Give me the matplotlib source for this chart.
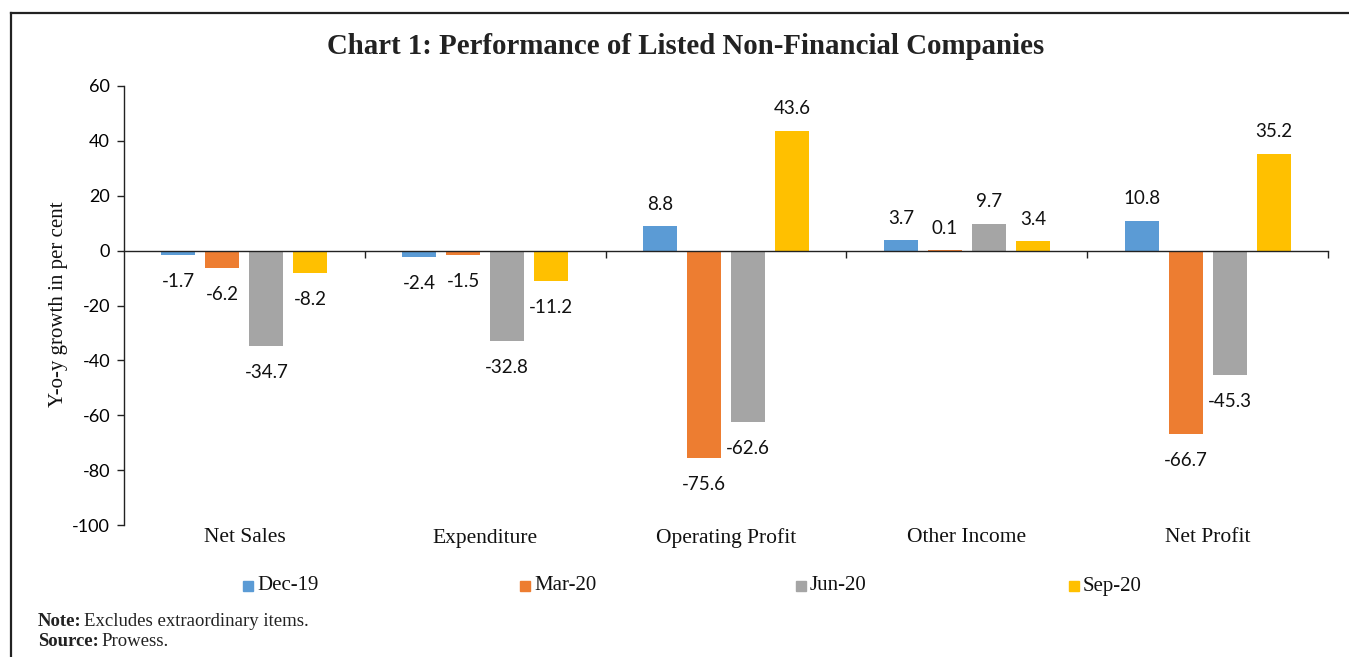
import matplotlib
matplotlib.use("Agg")
import matplotlib.pyplot as plt
from matplotlib.patches import Rectangle
from matplotlib.lines import Line2D
import matplotlib.transforms as mtransforms
import numpy as np

categories = ["Net Sales", "Expenditure", "Operating Profit", "Other Income", "Net Profit"]
series_names = ["Dec-19", "Mar-20", "Jun-20", "Sep-20"]
dec19 = [-1.7, -2.4, 8.8, 3.7, 10.8]
mar20 = [-6.2, -1.5, -75.6, 0.1, -66.7]
jun20 = [-34.7, -32.8, -62.6, 9.7, -45.3]
sep20 = [-8.2, -11.2, 43.6, 3.4, 35.2]
colors = ["#5B9BD5", "#ED7D31", "#A5A5A5", "#FFC000"]
yticks = [60, 40, 20, 0, -20, -40, -60, -80, -100]

SERIF = "Liberation Serif"
SANS = "Lato"

W, H = 1349, 657
fig = plt.figure(figsize=(W / 100, H / 100), dpi=100)

# frame lines
fig.add_artist(Line2D([11 / W, 1.0], [1 - 12.5 / H, 1 - 12.5 / H], color="#222222", lw=1.6))
fig.add_artist(Line2D([11 / W, 11 / W], [0, 1 - 12.5 / H], color="#222222", lw=1.6))

ax = fig.add_axes([124 / W, 1 - 525 / H, 1204 / W, 439 / H])
ax.set_xlim(-0.5, 4.5)
ax.set_ylim(-100, 60)

x = np.arange(len(categories))
step = 0.1827
bw = 0.141
data = [dec19, mar20, jun20, sep20]
for i, (vals, c, name) in enumerate(zip(data, colors, series_names)):
    xs = x + (i - 1.5) * step
    ax.bar(xs, vals, width=bw, color=c, label=name, zorder=2)
    for xv, v in zip(xs, vals):
        off = 16 if v >= 0 else -19
        ax.annotate(f"{v:.1f}", (xv, v), xytext=(0, off), textcoords="offset points",
                    ha="center", va="center", fontsize=13.5, family=SANS, color="#111111")

for s in ["top", "right"]:
    ax.spines[s].set_visible(False)
ax.spines["bottom"].set_position(("data", 0))
ax.spines["left"].set_color("#222222")
ax.spines["bottom"].set_color("#222222")
ax.spines["left"].set_linewidth(1.0)
ax.spines["bottom"].set_linewidth(1.0)

ax.set_yticks(yticks)
ax.set_yticklabels([str(t) for t in yticks], family=SANS, fontsize=13)
ax.tick_params(axis="y", direction="out", length=5, width=1, pad=5, color="#222222")
ax.set_xticks(np.arange(0.5, 5.0, 1.0))
ax.set_xticklabels([])
ax.tick_params(axis="x", direction="out", length=5, width=1, color="#222222")

trans = mtransforms.blended_transform_factory(ax.transData, ax.transAxes)
for xi, cat in zip(x, categories):
    ax.text(xi, -13 / 439, cat, transform=trans, ha="center", va="center",
            fontsize=15.5, family=SERIF, color="#111111")

fig.text(58 / W, 1 - 304 / H, "Y-o-y growth in per cent", rotation=90, ha="center", va="center",
         fontsize=15, family=SERIF, color="#111111")

fig.text(686 / W, 1 - 46 / H, "Chart 1: Performance of Listed Non-Financial Companies",
         ha="center", va="center", fontsize=20.8, family=SERIF, weight="bold", color="#222222")

# legend
leg_x = [243, 520, 796, 1069]
for lx, name, c in zip(leg_x, series_names, colors):
    fig.add_artist(Rectangle((lx / W, 1 - 591 / H), 10 / W, 10 / H, color=c, transform=fig.transFigure))
    fig.text((lx + 14) / W, 1 - 586 / H, name, ha="left", va="center", fontsize=15,
             family=SERIF, color="#111111")

fig.text(38 / W, 1 - 622 / H, "Note:", ha="left", va="center", fontsize=13.5, family=SERIF,
         weight="bold", color="#222222")
fig.text(84 / W, 1 - 622 / H, "Excludes extraordinary items.", ha="left", va="center",
         fontsize=13.5, family=SERIF, color="#222222")
fig.text(38 / W, 1 - 642 / H, "Source:", ha="left", va="center", fontsize=13.5, family=SERIF,
         weight="bold", color="#222222")
fig.text(101 / W, 1 - 642 / H, "Prowess.", ha="left", va="center", fontsize=13.5, family=SERIF,
         color="#222222")

fig.savefig("out.png", dpi=100)
